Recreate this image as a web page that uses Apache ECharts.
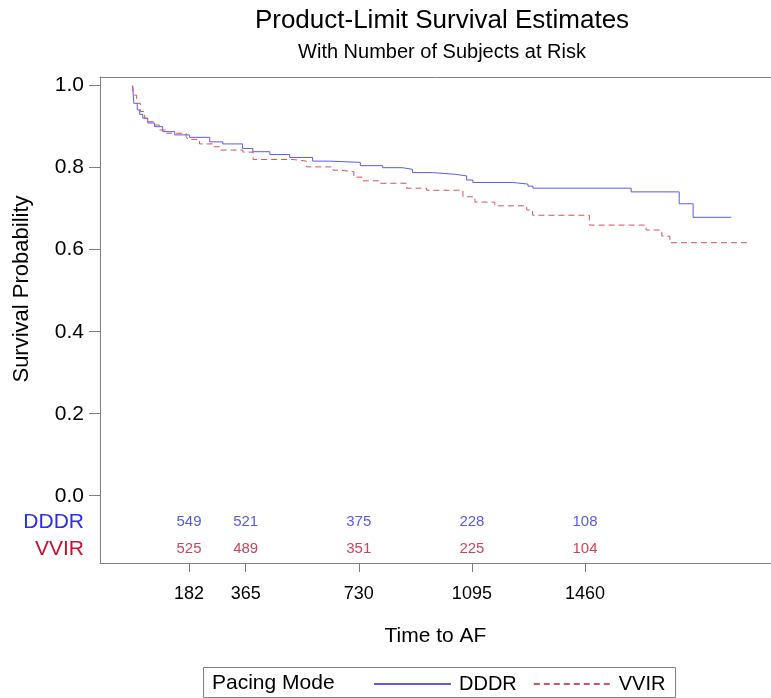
<!DOCTYPE html>
<html>
<head>
<meta charset="UTF-8">
<title>Product-Limit Survival Estimates</title>
<script src="https://cdn.jsdelivr.net/npm/echarts@6/dist/echarts.min.js"></script>
<style>
  html, body { margin: 0; padding: 0; background: #fff; }
  #main { width: 771px; height: 698px; }
</style>
</head>
<body>
<div id="main"></div>
<script>
// tick positions (days) and numbers at risk
var tickDays = [182, 365, 730, 1095, 1460];
var atRiskDDDR = [549, 521, 375, 228, 108];
var atRiskVVIR = [525, 489, 351, 225, 104];
var yTicks = [0, 0.2, 0.4, 0.6, 0.8, 1.0];

// Kaplan-Meier steps: time (days) -> survival after that time
var dddrTime = [0, 4, 15, 23, 33, 49, 71, 97, 136, 184, 249, 291, 355, 388, 443, 507, 581, 636,
                735, 807, 871, 903, 968, 1040, 1078, 1098, 1226, 1276, 1292, 1609, 1764, 1809, 1932];
var dddrSurv = [1.0, 0.957, 0.941, 0.930, 0.921, 0.909, 0.900, 0.888, 0.880, 0.874, 0.863, 0.858, 0.847, 0.839, 0.832, 0.825, 0.816, 0.813,
                0.805, 0.800, 0.796, 0.788, 0.784, 0.780, 0.770, 0.764, 0.760, 0.755, 0.750, 0.741, 0.712, 0.679, 0.679];

var vvirTime = [0, 4, 13, 25, 39, 48, 71, 87, 110, 173, 178, 216, 259, 281, 356, 389, 518, 561, 647, 669,
                714, 740, 798, 884, 949, 1066, 1105, 1169, 1272, 1291, 1474, 1657, 1708, 1734, 1986];
var vvirSurv = [1.0, 0.977, 0.957, 0.937, 0.920, 0.912, 0.904, 0.892, 0.884, 0.876, 0.869, 0.858, 0.851, 0.843, 0.838, 0.820, 0.816, 0.802, 0.794, 0.790,
                0.777, 0.768, 0.762, 0.750, 0.745, 0.729, 0.716, 0.707, 0.697, 0.684, 0.660, 0.648, 0.633, 0.617, 0.617];

var FONT = "'Liberation Sans', Arial, sans-serif";
var BLUE_LINE = '#5a5af0', RED_LINE = '#d9505e';
var BLUE_TXT = '#2e2ee0', RED_TXT = '#c41230';
var ROW_DDDR = -0.0641, ROW_VVIR = -0.130;   // rows of the at-risk table under the plot
var X_MIN = -105.2, X_MAX = 2060.3;

function pairs(xs, ys) {
  var out = [];
  for (var i = 0; i < xs.length; i++) out.push([xs[i], ys[i]]);
  return out;
}

var chart = echarts.init(document.getElementById('main'));

var option = {
  animation: false,
  textStyle: { fontFamily: FONT },
  title: [
    { text: 'Product-Limit Survival Estimates', left: 437, top: 3, textAlign: 'center',
      textStyle: { fontSize: 26, fontWeight: 'normal', color: '#000', fontFamily: FONT } },
    { text: 'With Number of Subjects at Risk', left: 437, top: 37, textAlign: 'center',
      textStyle: { fontSize: 20, fontWeight: 'normal', color: '#000', fontFamily: FONT } }
  ],
  // the frame runs out of the picture on the right: only top, left and bottom are drawn
  grid: { left: 100, top: 77, right: 0, height: 486 },
  legend: {
    left: 368, top: 669,
    itemWidth: 77, itemHeight: 14, itemGap: 16,
    data: ['DDDR', 'VVIR'],
    itemStyle: { opacity: 0 },
    textStyle: { fontSize: 20, color: '#000', fontFamily: FONT, padding: [0, 0, 0, 3] }
  },
  xAxis: [
    {
      type: 'value', min: X_MIN, max: X_MAX,
      name: 'Time to AF', nameLocation: 'middle', nameGap: 63,
      nameTextStyle: { fontSize: 21, color: '#000' },
      axisLine: { show: true, onZero: false, lineStyle: { color: '#808080' } },
      axisTick: { show: true, length: 9, customValues: tickDays, lineStyle: { color: '#808080' } },
      axisLabel: { customValues: tickDays, margin: 22, fontSize: 18, color: '#000',
        formatter: function (v) { return String(v); } },
      splitLine: { show: false }
    },
    {
      // top edge of the frame
      type: 'value', position: 'top', min: X_MIN, max: X_MAX,
      axisLine: { show: true, onZero: false, lineStyle: { color: '#808080' } },
      axisTick: { show: false }, axisLabel: { show: false }, splitLine: { show: false }
    }
  ],
  yAxis: {
    type: 'value', min: -0.1641, max: 1.0212,
    axisLine: { show: true, onZero: false, lineStyle: { color: '#808080' } },
    axisTick: { show: true, length: 11, customValues: yTicks, lineStyle: { color: '#808080' } },
    axisLabel: {
      customValues: yTicks.concat([ROW_DDDR, ROW_VVIR]),
      margin: 16, fontSize: 21, color: '#000',
      formatter: function (v) {
        if (v < -0.1) return '{v|VVIR}';
        if (v < -0.01) return '{d|DDDR}';
        return v.toFixed(1);
      },
      rich: {
        d: { fontSize: 21, color: BLUE_TXT, fontFamily: FONT },
        v: { fontSize: 21, color: RED_TXT, fontFamily: FONT }
      }
    },
    splitLine: { show: false }
  },
  graphic: [
    { type: 'text', x: 22, y: 289, rotation: Math.PI / 2,
      style: { text: 'Survival Probability', font: '22px ' + FONT, fill: '#000', align: 'center', verticalAlign: 'middle' } },
    { type: 'rect', shape: { x: 203.5, y: 667.5, width: 472, height: 30 },
      style: { fill: 'none', stroke: '#808080', lineWidth: 1 } },
    { type: 'text', x: 212, y: 683,
      style: { text: 'Pacing Mode', font: '21px ' + FONT, fill: '#000', align: 'left', verticalAlign: 'middle' } }
  ],
  series: [
    {
      name: 'DDDR', type: 'line', step: 'end', symbol: 'none',
      lineStyle: { color: BLUE_LINE, width: 1 }, itemStyle: { color: BLUE_LINE },
      data: pairs(dddrTime, dddrSurv)
    },
    {
      name: 'VVIR', type: 'line', step: 'end', symbol: 'none',
      lineStyle: { color: RED_LINE, width: 1, type: [6, 4] }, itemStyle: { color: RED_LINE },
      data: pairs(vvirTime, vvirSurv)
    },
    {
      // numbers at risk, DDDR row
      type: 'scatter', symbolSize: 0, silent: true,
      data: tickDays.map(function (t, i) { return [t, ROW_DDDR, atRiskDDDR[i]]; }),
      label: { show: true, position: 'inside', fontSize: 15, color: BLUE_TXT,
        formatter: function (p) { return p.value[2]; } }
    },
    {
      // numbers at risk, VVIR row
      type: 'scatter', symbolSize: 0, silent: true,
      data: tickDays.map(function (t, i) { return [t, ROW_VVIR, atRiskVVIR[i]]; }),
      label: { show: true, position: 'inside', fontSize: 15, color: RED_TXT,
        formatter: function (p) { return p.value[2]; } }
    }
  ]
};

chart.setOption(option);
</script>
</body>
</html>
